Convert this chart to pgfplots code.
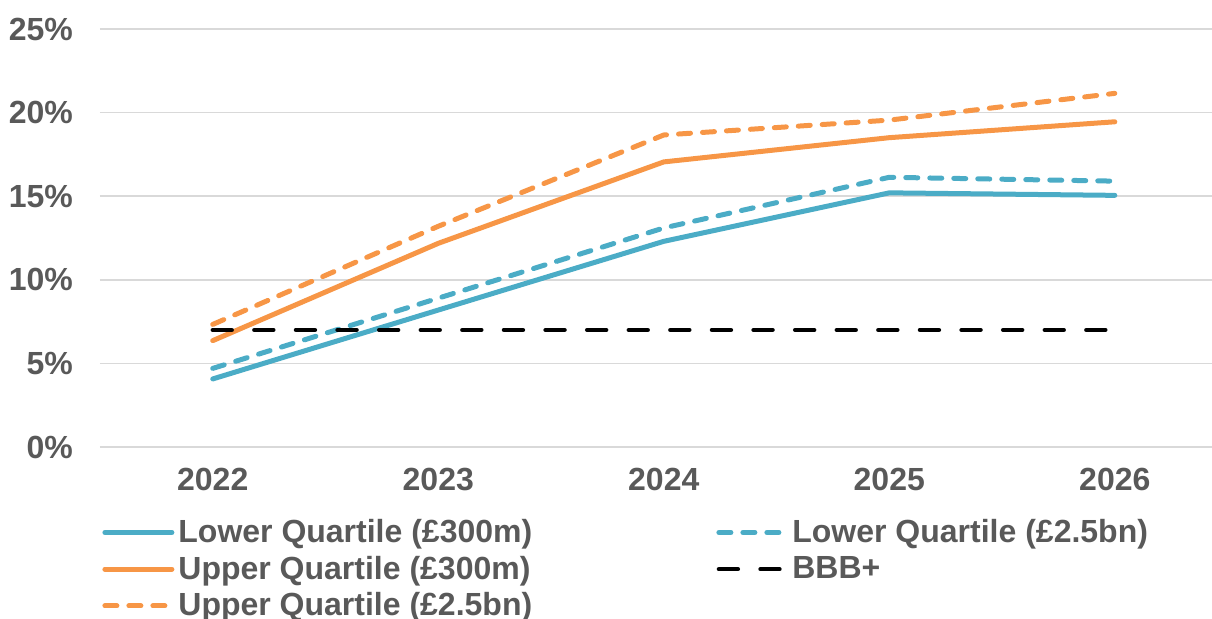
\documentclass[border=0pt]{standalone}
\usepackage{pgfplots}
\pgfplotsset{compat=1.18}
\usepackage{fontspec}
\setmainfont{Liberation Sans}
\definecolor{qblue}{HTML}{4BACC6}
\definecolor{qorange}{HTML}{F79646}
\definecolor{tgray}{HTML}{595959}
\definecolor{ggray}{HTML}{D9D9D9}
\begin{document}
\begin{tikzpicture}
\useasboundingbox (-50pt,-86pt) rectangle (556pt,223.5pt);
\begin{axis}[
 scale only axis, width=556pt, height=209pt,
 xmin=2021.5, xmax=2026.431, ymin=0, ymax=25,
 axis line style={draw=none},
 major tick length=0pt,
 ymajorgrids, grid style={ggray, line width=0.75pt},
 xtick={2022,2023,2024,2025,2026}, xticklabels={2022,2023,2024,2025,2026},
 ytick={0,5,10,15,20,25}, yticklabels={0\%,5\%,10\%,15\%,20\%,25\%},
 tick label style={font=\fontsize{16}{19}\selectfont\bfseries, text=tgray},
 yticklabel style={xshift=-10pt},
 xticklabel style={yshift=-7.2pt},
 legend columns=2,
 legend cell align=left,
 legend style={at={(rel axis cs:0,0)}, anchor=north west, xshift=1pt, yshift=-34pt,
   draw=none, fill=none, font=\fontsize{16}{19}\selectfont\bfseries, text=tgray,
   inner sep=0pt, row sep=1.25pt, column sep=0pt, nodes={inner sep=2pt}},
 legend image code/.code={\draw[#1] (0pt,0pt) -- (33.5pt,0pt);},
 every axis plot/.append style={line width=2.5pt, line cap=round, line join=round},
]
\addplot[qblue] coordinates {(2022,4.07) (2023,8.19) (2024,12.3) (2025,15.2) (2026,15.05)};
\addlegendentry{\makebox[267pt][l]{Lower Quartile (£300m)}}
\addplot[qblue, dash pattern=on 6pt off 6pt] coordinates {(2022,4.7) (2023,8.9) (2024,13.1) (2025,16.13) (2026,15.9)};
\addlegendentry{Lower Quartile (£2.5bn)}
\addplot[qorange] coordinates {(2022,6.36) (2023,12.18) (2024,17.05) (2025,18.5) (2026,19.45)};
\addlegendentry{\makebox[267pt][l]{Upper Quartile (£300m)}}
\addplot[black, line width=2.2pt, dash pattern=on 9.5pt off 11.3pt] coordinates {(2022,7) (2023,7) (2024,7) (2025,7) (2026,7)};
\addlegendentry{BBB+}
\addplot[qorange, dash pattern=on 6pt off 6pt] coordinates {(2022,7.33) (2023,13.2) (2024,18.66) (2025,19.55) (2026,21.15)};
\addlegendentry{Upper Quartile (£2.5bn)}
\end{axis}
\end{tikzpicture}
\end{document}
